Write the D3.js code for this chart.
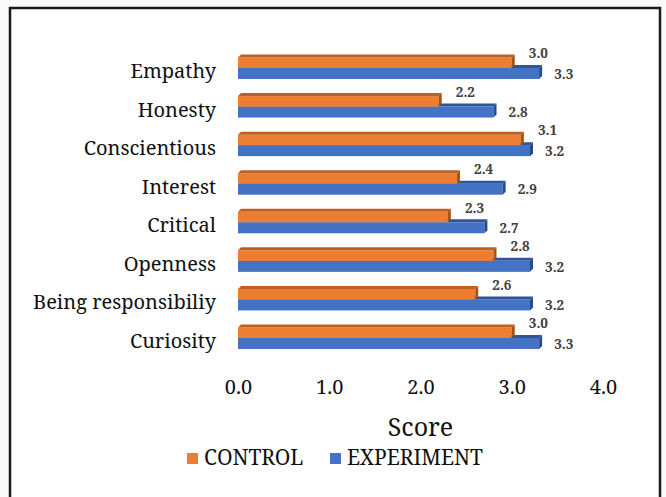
<!DOCTYPE html>
<html>
<head>
<meta charset="utf-8">
<script src="https://cdn.jsdelivr.net/npm/d3@7"></script>
<style>
    body { margin: 0; background: #fafafa; }
    svg { display: block; }
</style>
</head>
<body>
<svg id="chart" width="666" height="497"></svg>
<script>
// Data
var categories = ["Empathy", "Honesty", "Conscientious", "Interest", "Critical", "Openness", "Being responsibiliy", "Curiosity"]
var control = [3.0, 2.2, 3.1, 2.4, 2.3, 2.8, 2.6, 3.0]
var experiment = [3.3, 2.8, 3.2, 2.9, 2.7, 3.2, 3.2, 3.3]
var ticks = [0, 1, 2, 3, 4]
var seriesNames = ["CONTROL", "EXPERIMENT"]

var serif = "Noto Serif"
var svg = d3.select("#chart")

// Frame
svg.append("rect")
    .attr("x", 10).attr("y", 8)
    .attr("width", 650).attr("height", 500)
    .attr("fill", "#ffffff")
    .attr("stroke", "#1a1a1a")
    .attr("stroke-width", 2.5)

var x = d3.scaleLinear().domain([0, 4]).range([238, 603])
var y = d3.scalePoint().domain(categories).range([68, 338])

var depth = 3
var barH = 10.5

var styles = [
    {front: "#ED7D31", top: "#BF5F22", side: "#A8521B"},
    {front: "#4472C4", top: "#2F5597", side: "#29498A"}
]

function drawBar(g, x0, x1, yTop, h, st) {
    g.append("rect")
        .attr("x", x0).attr("y", yTop)
        .attr("width", x1 - x0).attr("height", h)
        .attr("fill", st.front)
    g.append("polygon")
        .attr("points", [[x0, yTop], [x0 + depth, yTop - depth], [x1 + depth, yTop - depth], [x1, yTop]].join(" "))
        .attr("fill", st.top)
    g.append("polygon")
        .attr("points", [[x1, yTop], [x1 + depth, yTop - depth], [x1 + depth, yTop + h - depth], [x1, yTop + h]].join(" "))
        .attr("fill", st.side)
}

var fmt = d3.format(".1f")
var bars = svg.append("g")

categories.forEach(function(c, i) {
    var cy = y(c)
    // experiment drawn first so the control bar sits over its top face
    drawBar(bars, x(0), x(experiment[i]), cy, barH + 0.5, styles[1])
    drawBar(bars, x(0), x(control[i]), cy - barH, barH, styles[0])

    bars.append("text")
        .attr("x", x(control[i]) + 17)
        .attr("y", cy - barH - 4)
        .attr("dy", "0.35em")
        .style("font-family", serif)
        .attr("font-weight", "bold")
        .attr("font-size", 13.5)
        .attr("fill", "#404040")
        .text(fmt(control[i]))

    bars.append("text")
        .attr("x", x(experiment[i]) + 15)
        .attr("y", cy + 6)
        .attr("dy", "0.35em")
        .style("font-family", serif)
        .attr("font-weight", "bold")
        .attr("font-size", 13.5)
        .attr("fill", "#404040")
        .text(fmt(experiment[i]))
})

// Category labels
svg.append("g").selectAll("text")
    .data(categories)
    .join("text")
    .attr("x", 216)
    .attr("y", function(d) { return y(d) + 3 })
    .attr("dy", "0.35em")
    .attr("text-anchor", "end")
    .style("font-family", serif)
    .attr("font-size", 20)
    .attr("fill", "#111111")
    .text(function(d) { return d })

// X axis (labels only)
var xAxis = svg.append("g")
    .attr("transform", "translate(0,377)")
    .call(d3.axisBottom(x).tickValues(ticks).tickFormat(d3.format(".1f")).tickSize(0))
xAxis.select(".domain").remove()
xAxis.selectAll("text")
    .style("font-family", serif)
    .attr("font-size", 20)
    .attr("fill", "#111111")

svg.append("text")
    .attr("x", (x(0) + x(4)) / 2)
    .attr("y", 427)
    .attr("dy", "0.35em")
    .attr("text-anchor", "middle")
    .style("font-family", serif)
    .attr("font-size", 25)
    .attr("fill", "#111111")
    .text("Score")

// Legend
var legendX = [187, 330]
var legend = svg.append("g")
seriesNames.forEach(function(name, i) {
    legend.append("rect")
        .attr("x", legendX[i]).attr("y", 453)
        .attr("width", 11).attr("height", 11)
        .attr("fill", styles[i].front)
    legend.append("text")
        .attr("x", legendX[i] + 17)
        .attr("y", 458)
        .attr("dy", "0.35em")
        .style("font-family", serif)
        .attr("font-size", 21)
        .attr("fill", "#111111")
        .text(name)
})
</script>
</body>
</html>
